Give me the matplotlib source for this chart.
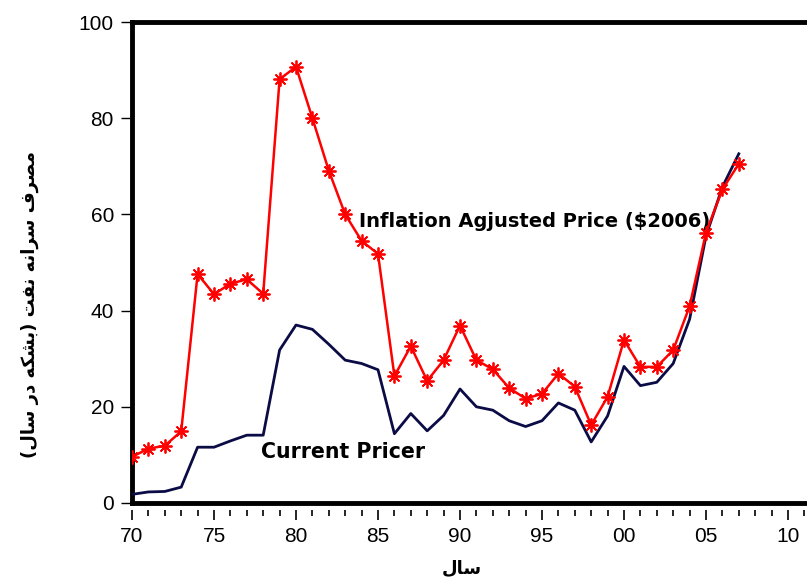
import matplotlib
matplotlib.use("Agg")
import matplotlib.pyplot as plt
from matplotlib.ticker import MultipleLocator, FixedLocator

years = list(range(1970, 2008))
inflation_adjusted = [9.6, 11.3, 11.9, 14.9, 47.6, 43.4, 45.6, 46.5, 43.5, 88.1,
                      90.7, 80.0, 69.1, 60.0, 54.5, 51.8, 26.4, 32.6, 25.4, 29.7,
                      36.9, 29.7, 27.8, 23.9, 21.7, 22.7, 26.9, 24.2, 16.2, 22.1,
                      33.9, 28.3, 28.3, 31.8, 40.9, 56.2, 65.2, 70.5]
current_price = [1.8, 2.3, 2.4, 3.3, 11.6, 11.6, 12.9, 14.1, 14.1, 31.8,
                 37.0, 36.1, 33.0, 29.7, 29.0, 27.7, 14.4, 18.6, 15.0, 18.2,
                 23.7, 20.0, 19.3, 17.1, 15.9, 17.1, 20.8, 19.3, 12.7, 18.1,
                 28.4, 24.4, 25.1, 29.0, 38.2, 55.5, 65.7, 72.6]
xtick_values = [70, 75, 80, 85, 90, 95, 100, 105, 110]
xtick_labels = ["70", "75", "80", "85", "90", "95", "00", "05", "10"]
ytick_values = [0, 20, 40, 60, 80, 100]

# Persian labels, written in presentation forms in visual (left-to-right) order
xlabel_text = "\uFEDD\uFE8E\uFEB3"  # سال
ylabel_text = ("(" + "\uFEDD\uFE8E\uFEB3" + " " + "\uFEAD\uFEA9" + " "
               + "\uFEEA\uFB91\uFEB8\uFE91" + ")" + " " + "\uFE96\uFED4\uFEE7"
               + " " + "\uFEEA\uFEE7\uFE8D\uFEAE\uFEB3" + " "
               + "\uFED1\uFEAE\uFEBC\uFEE3")  # مصرف سرانه نفت (بشکه در سال)

x = [y - 1900 for y in years]

fig = plt.figure(figsize=(8.07, 5.80), dpi=100)
W, H = 807, 580
px_per_year = 16.4
left_px, top_px, bottom_px = 132, 22, 503
xmin, xmax = 70, 112
width_px = (xmax - xmin) * px_per_year
ax = fig.add_axes([left_px / W, 1 - bottom_px / H, width_px / W, (bottom_px - top_px) / H])

ax.plot(x, current_price, color="#0b0b45", lw=2.0, zorder=3)
ax.plot(x, inflation_adjusted, color="#ff0000", lw=1.8, marker=(8, 2, 0),
        markersize=10, markeredgewidth=1.3, markeredgecolor="#ff0000", zorder=4)

ax.set_xlim(xmin, xmax)
ax.set_ylim(0, 100)

ax.xaxis.set_major_locator(FixedLocator(xtick_values))
ax.set_xticklabels(xtick_labels)
ax.xaxis.set_minor_locator(MultipleLocator(1))
ax.set_yticks(ytick_values)

for s in ["top", "left"]:
    ax.spines[s].set_linewidth(3.5)
ax.spines["right"].set_visible(False)
ax.spines["left"].set_position(("outward", 0))
ax.spines["bottom"].set_position(("outward", 5))
ax.spines["bottom"].set_color("none")
ax.axhline(0, color="black", lw=3.5, clip_on=False, zorder=5)

ax.tick_params(axis="x", which="major", direction="out", length=7, width=1.2,
               pad=5, labelsize=15)
ax.tick_params(axis="x", which="minor", direction="out", length=4, width=1.2)
ax.tick_params(axis="y", which="major", direction="out", length=8, width=1.0,
               pad=5, labelsize=15)
for lab in ax.get_xticklabels() + ax.get_yticklabels():
    lab.set_fontfamily("Liberation Sans")

ax.text(83.85, 57.4, "Inflation Agjusted Price ($2006)", fontsize=14.0,
        fontweight="bold", fontfamily="DejaVu Sans", ha="left", va="baseline", zorder=2)
ax.text(77.87, 9.36, "Current Pricer", fontsize=14.8, fontweight="bold",
        fontfamily="DejaVu Sans", ha="left", va="baseline", zorder=2)

fig.text(462 / W, 1 - 568 / H, xlabel_text, fontsize=13, fontweight="bold",
         family=["DejaVu Sans"], ha="center", va="center")
fig.text(30 / W, 1 - 305 / H, ylabel_text, fontsize=13, fontweight="bold",
         family=["DejaVu Sans"], ha="center", va="center", rotation=90)

fig.savefig("out.png", dpi=100)
